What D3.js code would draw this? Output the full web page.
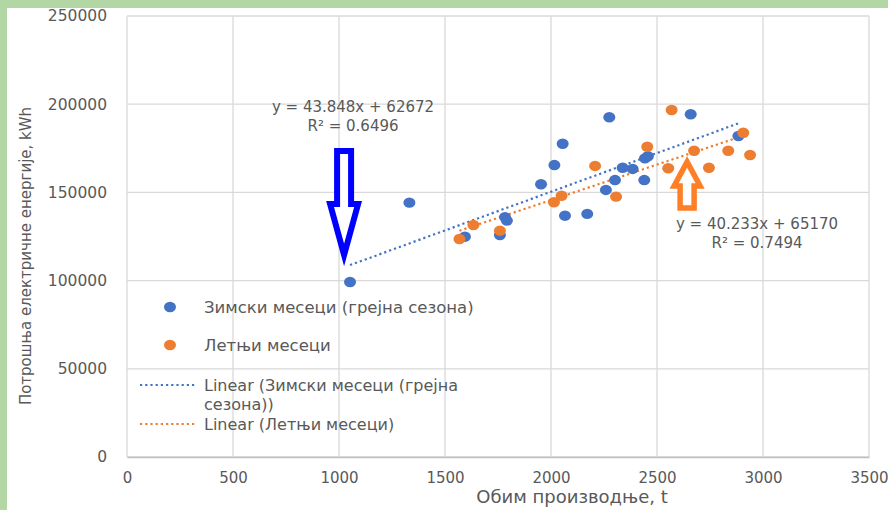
<!DOCTYPE html>
<html>
<head>
<meta charset="utf-8">
<script src="https://cdn.jsdelivr.net/npm/d3@7"></script>
<style>
  body { margin: 0; background: #fff; }
  text { font-family: "DejaVu Sans", sans-serif; fill: #595959; }
</style>
</head>
<body>
<div id="chart"></div>
<script>
// data
var winterX = [1052, 1332, 1594, 1759, 1783, 1792, 1953, 2016, 2055, 2066, 2171, 2275, 2259, 2302, 2338, 2385, 2440, 2443, 2457, 2659, 2884]
var winterY = [99200, 144200, 124900, 125800, 136000, 134000, 154600, 165500, 177600, 136800, 137800, 192600, 151400, 157000, 164000, 163300, 157000, 169300, 170500, 194300, 182000]
var summerX = [1568, 1634, 1759, 2014, 2050, 2208, 2307, 2454, 2569, 2553, 2675, 2745, 2836, 2907, 2939]
var summerY = [123600, 131500, 128300, 144400, 148100, 165000, 147600, 175900, 196700, 163700, 173600, 164000, 173600, 183800, 171200]
var seriesNames = ["Зимски месеци (грејна сезона)", "Летњи месеци"]
var trendSlope = [43.848, 40.233]
var trendIntercept = [62672, 65170]
var trendR2 = ["0.6496", "0.7494"]
var xTicks = [0, 500, 1000, 1500, 2000, 2500, 3000, 3500]
var yTicks = [0, 50000, 100000, 150000, 200000, 250000]
var colors = ["#4472c4", "#ed7d31"]

var W = 888, H = 510
var margin = {top: 16, right: 19, bottom: 53, left: 127}
var width = W - margin.left - margin.right
var height = H - margin.top - margin.bottom

var svg = d3.select("#chart").append("svg")
    .attr("width", W)
    .attr("height", H)

// green frame of the screenshot
svg.append("rect").attr("x", 0).attr("y", 0).attr("width", W).attr("height", 8).attr("fill", "#b2d6a4")
svg.append("rect").attr("x", 0).attr("y", 0).attr("width", 7).attr("height", H).attr("fill", "#b2d6a4")

var g = svg.append("g")
    .attr("transform", "translate(" + margin.left + "," + margin.top + ")")

var x = d3.scaleLinear().domain([0, 3500]).range([0, width])
var y = d3.scaleLinear().domain([0, 250000]).range([height, 0])

// grid
g.append("g").selectAll("line").data(xTicks).enter().append("line")
    .attr("x1", function(d) { return x(d) }).attr("x2", function(d) { return x(d) })
    .attr("y1", 0).attr("y2", height)
    .attr("stroke", "#d9d9d9").attr("stroke-width", 1.3)
g.append("g").selectAll("line").data(yTicks).enter().append("line")
    .attr("x1", 0).attr("x2", width)
    .attr("y1", function(d) { return y(d) }).attr("y2", function(d) { return y(d) })
    .attr("stroke", "#d9d9d9").attr("stroke-width", 1.3)

// axes
var xAxis = g.append("g")
    .attr("transform", "translate(0," + height + ")")
    .call(d3.axisBottom(x).tickValues(xTicks).tickSize(0).tickPadding(15).tickFormat(d3.format("d")))
xAxis.select(".domain").attr("stroke", "#bfbfbf").attr("stroke-width", 1.3)
xAxis.selectAll("text").style("font-size", "15px").attr("fill", "#595959")

var yAxis = g.append("g")
    .call(d3.axisLeft(y).tickValues(yTicks).tickSize(0).tickPadding(20).tickFormat(d3.format("d")))
yAxis.select(".domain").remove()
yAxis.selectAll("text").style("font-size", "15.5px").attr("fill", "#595959")

// axis titles
svg.append("text")
    .attr("x", 572).attr("y", 503)
    .attr("text-anchor", "middle")
    .style("font-size", "18px")
    .text("Обим производње, t")
svg.append("text")
    .attr("transform", "translate(31,256) rotate(-90)")
    .attr("text-anchor", "middle")
    .style("font-size", "15px")
    .text("Потрошња електричне енергије, kWh")

// trend lines
var series = [
  {xs: winterX, ys: winterY},
  {xs: summerX, ys: summerY}
]
series.forEach(function(s, i) {
  var x0 = d3.min(s.xs), x1 = d3.max(s.xs)
  g.append("line")
      .attr("x1", x(x0)).attr("y1", y(trendSlope[i] * x0 + trendIntercept[i]))
      .attr("x2", x(x1)).attr("y2", y(trendSlope[i] * x1 + trendIntercept[i]))
      .attr("stroke", colors[i])
      .attr("stroke-width", 2.2)
      .attr("stroke-dasharray", "2.2,3")
})

// points
series.forEach(function(s, i) {
  g.append("g").selectAll("ellipse")
      .data(d3.range(s.xs.length))
      .enter().append("ellipse")
      .attr("cx", function(k) { return x(s.xs[k]) })
      .attr("cy", function(k) { return y(s.ys[k]) })
      .attr("rx", 6)
      .attr("ry", 5.2)
      .attr("fill", colors[i])
})

// equations
var eqPos = [{x: 353, y: 112}, {x: 757, y: 229}]
series.forEach(function(s, i) {
  var t = svg.append("text")
      .attr("x", eqPos[i].x).attr("y", eqPos[i].y)
      .attr("text-anchor", "middle")
      .style("font-size", "15px")
  t.append("tspan").attr("x", eqPos[i].x).text("y = " + trendSlope[i] + "x + " + trendIntercept[i])
  t.append("tspan").attr("x", eqPos[i].x).attr("dy", 19).text("R² = " + trendR2[i])
})

// arrows (tip given in data units)
function arrow(tipX, tipY, dir, len, headLen, headHalf, shaftHalf, color, sw) {
  var px = x(tipX) + margin.left, py = y(tipY) + margin.top
  var pts = [
    [0, 0], [headHalf, headLen], [shaftHalf, headLen], [shaftHalf, len],
    [-shaftHalf, len], [-shaftHalf, headLen], [-headHalf, headLen]
  ]
  svg.append("path")
      .attr("d", d3.line()(pts.map(function(p) { return [px + p[0], py + dir * p[1]] })) + "Z")
      .attr("fill", "#fff")
      .attr("stroke", color)
      .attr("stroke-width", sw)
      .attr("stroke-linejoin", "miter")
}
arrow(1024, 114500, -1, 104, 51, 14, 7, "#0000ff", 6)
arrow(2642, 167300, 1, 46, 24, 13, 7, "#ff7f27", 5.5)

// legend
var legend = svg.append("g")
seriesNames.forEach(function(name, i) {
  var ly = [307, 345][i]
  legend.append("ellipse").attr("cx", 170).attr("cy", ly).attr("rx", 6).attr("ry", 5.2).attr("fill", colors[i])
  legend.append("text").attr("x", 204).attr("y", ly).attr("dy", "0.35em")
      .style("font-size", "16.5px").text(name)
})
var trendLegend = [
  {y: 385, lines: ["Linear (Зимски месеци (грејна", "сезона))"]},
  {y: 424, lines: ["Linear (" + seriesNames[1] + ")"]}
]
trendLegend.forEach(function(d, i) {
  legend.append("line")
      .attr("x1", 140).attr("x2", 197).attr("y1", d.y).attr("y2", d.y)
      .attr("stroke", colors[i]).attr("stroke-width", 2.2).attr("stroke-dasharray", "2.2,3")
  d.lines.forEach(function(l, k) {
    legend.append("text").attr("x", 204).attr("y", d.y + k * 19.5).attr("dy", "0.35em")
        .style("font-size", "16px").text(l)
  })
})
</script>
</body>
</html>
